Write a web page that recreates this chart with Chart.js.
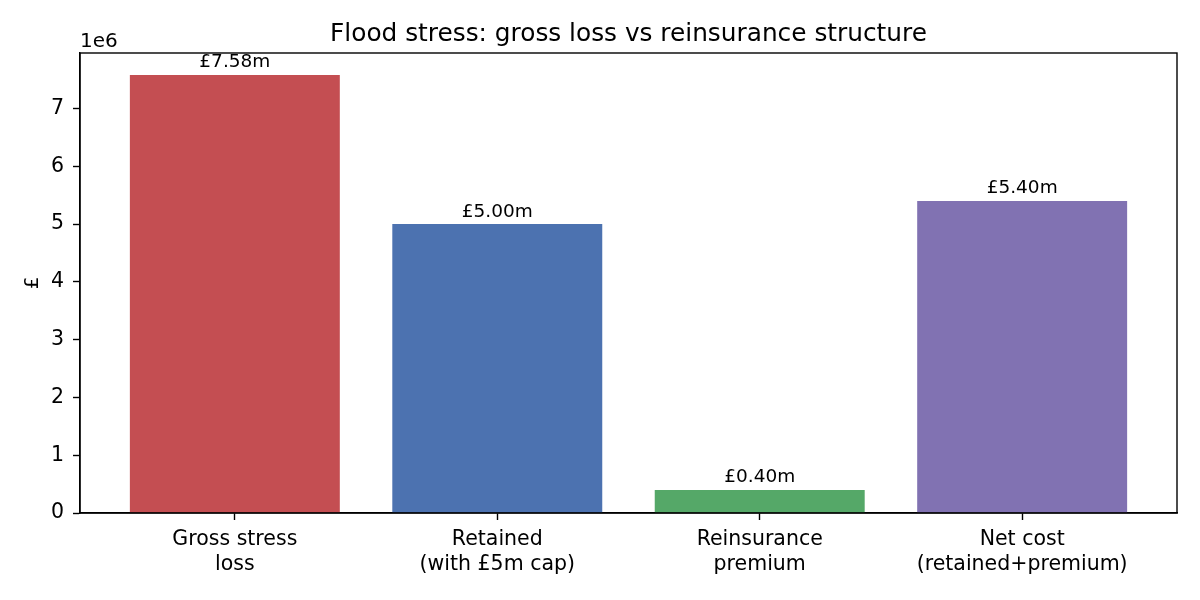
<!DOCTYPE html>
<html>
<head>
<meta charset="utf-8">
<script src="https://cdn.jsdelivr.net/npm/chart.js@4.4.1/dist/chart.umd.min.js"></script>
<style>
  html, body { margin: 0; padding: 0; background: #ffffff; }
  #wrap { width: 1200px; height: 600px; position: relative; }
</style>
</head>
<body>
<div id="wrap"><canvas id="chartFlood"></canvas></div>
<script>
// ============================
// DADOS
// ============================
var categorias = [
    ['Gross stress', 'loss'],
    ['Retained', '(with £5m cap)'],
    ['Reinsurance', 'premium'],
    ['Net cost', '(retained+premium)']
];
var valores = [7580000, 5000000, 400000, 5400000];
var rotulos = ['£7.58m', '£5.00m', '£0.40m', '£5.40m'];
var ticksY = [0, 1, 2, 3, 4, 5, 6, 7];
var cores = ['#c44e52', '#4c72b0', '#55a868', '#8172b2'];

var FONTE = "'DejaVu Sans', sans-serif";

// textos extras: titulo, moldura, rotulos das barras
var extrasPlugin = {
    id: 'extras',
    afterDraw: function (chart) {
        var ctx = chart.ctx;
        var a = chart.chartArea;
        ctx.save();
        // moldura
        ctx.strokeStyle = '#000000';
        ctx.lineWidth = 1.4;
        ctx.strokeRect(a.left, a.top, a.right - a.left, a.bottom - a.top);

        ctx.fillStyle = '#000000';
        // titulo
        ctx.font = '24.8px ' + FONTE;
        ctx.textAlign = 'center';
        ctx.textBaseline = 'alphabetic';
        ctx.fillText('Flood stress: gross loss vs reinsurance structure', (a.left + a.right) / 2, 41);

        // multiplicador
        ctx.font = '20px ' + FONTE;
        ctx.textAlign = 'left';
        ctx.fillText('1e6', a.left, 47);

        // titulo do eixo y
        ctx.save();
        ctx.translate(33, (a.top + a.bottom) / 2);
        ctx.rotate(-Math.PI / 2);
        ctx.textAlign = 'center';
        ctx.textBaseline = 'middle';
        ctx.fillText('£', 0, 0);
        ctx.restore();

        // rotulos das barras
        ctx.font = '18.5px ' + FONTE;
        ctx.textAlign = 'center';
        ctx.textBaseline = 'bottom';
        var meta = chart.getDatasetMeta(0);
        meta.data.forEach(function (bar, i) {
            ctx.fillText(rotulos[i], bar.x, bar.y - 3);
        });
        ctx.restore();
    }
};

var ctxFlood = document.getElementById('chartFlood');

var graficoFlood = new Chart(ctxFlood, {
    type: 'bar',
    data: {
        datasets: [{
            data: valores.map(function (v, i) { return { x: i, y: v }; }),
            backgroundColor: cores,
            borderWidth: 0,
            barPercentage: 1,
            categoryPercentage: 0.8
        }]
    },
    options: {
        responsive: true,
        maintainAspectRatio: false,
        animation: false,
        layout: { padding: { left: 0, right: 23, top: 53, bottom: 0 } },
        plugins: {
            legend: { display: false },
            title: { display: false },
            tooltip: { enabled: false }
        },
        scales: {
            x: {
                type: 'linear',
                min: -0.59,
                max: 3.59,
                offset: false,
                afterBuildTicks: function (scale) {
                    scale.ticks = categorias.map(function (c, i) { return { value: i }; });
                },
                afterFit: function (scale) { scale.height = 87; },
                grid: {
                    offset: false,
                    drawOnChartArea: false,
                    drawTicks: true,
                    tickLength: 7,
                    tickWidth: 1.4,
                    tickColor: '#000000'
                },
                border: { display: true, color: '#000000', width: 1.4 },
                ticks: {
                    color: '#000000',
                    font: { family: FONTE, size: 20.5, lineHeight: 1.23 },
                    padding: 7,
                    maxRotation: 0,
                    autoSkip: false,
                    callback: function (v) { return categorias[v]; }
                }
            },
            y: {
                min: 0,
                max: 7959000,
                afterBuildTicks: function (scale) {
                    scale.ticks = ticksY.map(function (t) { return { value: t * 1e6 }; });
                },
                afterFit: function (scale) { scale.width = 80; },
                grid: {
                    drawOnChartArea: false,
                    drawTicks: true,
                    tickLength: 7,
                    tickWidth: 1.4,
                    tickColor: '#000000'
                },
                border: { display: true, color: '#000000', width: 1.4 },
                ticks: {
                    color: '#000000',
                    font: { family: FONTE, size: 20.5 },
                    padding: 9,
                    callback: function (v) { return String(v / 1e6); }
                }
            }
        }
    },
    plugins: [extrasPlugin]
});
</script>
</body>
</html>
